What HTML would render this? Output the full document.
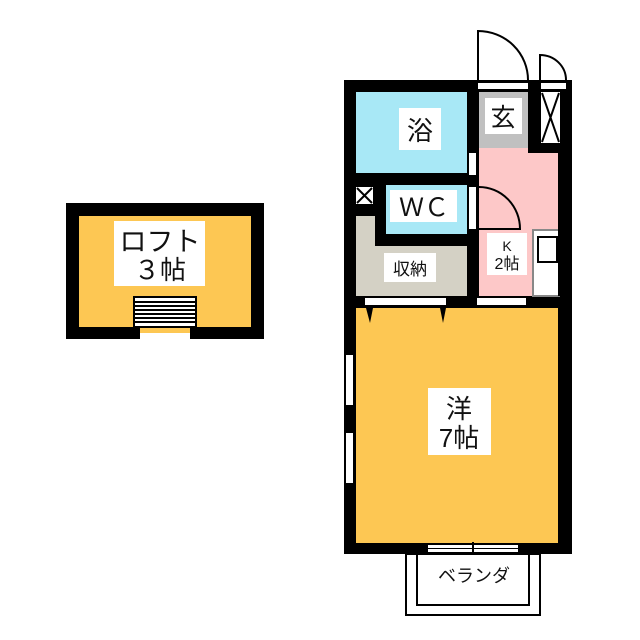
<!DOCTYPE html>
<html><head><meta charset="utf-8"><style>
html,body{margin:0;padding:0;background:#fff;}
svg{display:block;}
text{font-family:"Liberation Sans","Noto Sans CJK JP",sans-serif;fill:#111;}
</style></head><body>
<svg width="640" height="640" viewBox="0 0 640 640" xmlns="http://www.w3.org/2000/svg">
<!-- LOFT -->
<rect x="66" y="203" width="198" height="136" fill="#000"/>
<rect x="79" y="216" width="172" height="111" fill="#fdc753"/>
<rect x="140" y="327" width="50" height="6" fill="#fdc753"/>
<rect x="140" y="333" width="50" height="6" fill="#fff"/>
<rect x="114" y="221" width="91" height="65" fill="#fff"/>
<text x="160" y="251" font-size="27" text-anchor="middle">ロフト</text>
<text x="160" y="279" font-size="26" text-anchor="middle">３帖</text>
<rect x="134" y="297" width="62" height="30" fill="#fff" stroke="#000" stroke-width="2"/>
<g stroke="#000" stroke-width="2">
<line x1="135" y1="302" x2="195" y2="302"/><line x1="135" y1="306" x2="195" y2="306"/>
<line x1="135" y1="310" x2="195" y2="310"/><line x1="135" y1="314" x2="195" y2="314"/>
<line x1="135" y1="318" x2="195" y2="318"/><line x1="135" y1="322" x2="195" y2="322"/>
</g>

<!-- DOORS TOP -->
<path d="M478 80 L478 31 A50 49 0 0 1 528 80" fill="#fff" stroke="#000" stroke-width="2"/>
<path d="M540 80 L540 55 A26 25 0 0 1 566 80" fill="#fff" stroke="#000" stroke-width="2"/>

<!-- MAIN BLOCK -->
<rect x="344" y="80" width="228" height="474" fill="#000"/>
<rect x="478" y="83" width="50" height="6" fill="#fff"/>
<rect x="541" y="83" width="25" height="6" fill="#fff"/>
<!-- bath -->
<rect x="356" y="92" width="111" height="81" fill="#a8e8f6"/>
<rect x="399" y="108" width="42" height="42" fill="#fff"/>
<text x="420" y="140" font-size="26" text-anchor="middle">浴</text>
<!-- genkan -->
<rect x="479" y="92" width="49" height="56" fill="#c0c0c0"/>
<rect x="485" y="98" width="37" height="36" fill="#fff"/>
<text x="503" y="126" font-size="25" text-anchor="middle">玄</text>
<rect x="541" y="92" width="19" height="51" fill="#fff"/>
<path d="M542 93 L559 142 M559 93 L542 142" stroke="#000" stroke-width="2"/>
<!-- kitchen -->
<rect x="479" y="148" width="49" height="10" fill="#fdc8c8"/>
<rect x="479" y="153" width="81" height="143" fill="#fdc8c8"/>
<rect x="469" y="153" width="7" height="22" fill="#fff"/>
<rect x="469" y="187" width="7" height="42" fill="#fff"/>
<path d="M479 187 A41 42 0 0 1 520 229 L479 229" fill="none" stroke="#000" stroke-width="2"/>
<rect x="533" y="230" width="26" height="66" fill="#fff" stroke="#888" stroke-width="2"/>
<rect x="538" y="237" width="19" height="25" fill="#fff" stroke="#000" stroke-width="2"/>
<rect x="487" y="233" width="40" height="42" fill="#fff"/>
<text x="507" y="251" font-size="14" text-anchor="middle">K</text>
<text x="507" y="269" font-size="16" text-anchor="middle">2帖</text>
<!-- WC -->
<rect x="386" y="185" width="81" height="49" fill="#a8e8f6"/>
<rect x="390" y="190" width="67" height="32" fill="#fff"/>
<text x="424" y="216" font-size="25" text-anchor="middle">ＷＣ</text>
<rect x="356" y="187" width="17" height="17" fill="#fff"/>
<path d="M357 188 L372 203 M372 188 L357 203" stroke="#000" stroke-width="2"/>
<!-- storage -->
<rect x="356" y="216" width="19" height="80" fill="#d4d1c5"/>
<rect x="356" y="246" width="111" height="50" fill="#d4d1c5"/>
<rect x="384" y="253" width="52" height="29" fill="#fff"/>
<text x="410" y="275" font-size="17" text-anchor="middle">収納</text>
<rect x="365" y="298" width="81" height="7" fill="#fff"/>
<rect x="477" y="298" width="49" height="7" fill="#fff"/>
<!-- western room -->
<rect x="356" y="308" width="202" height="235" fill="#fdc753"/>
<rect x="558" y="153" width="2" height="143" fill="#000"/>
<path d="M366 308 L370 323 L373 308 Z M440 308 L443 323 L446 308 Z" fill="#000"/>
<rect x="346" y="355" width="7" height="50" fill="#fff"/>
<rect x="346" y="433" width="7" height="50" fill="#fff"/>
<rect x="428" y="388" width="63" height="67" fill="#fff"/>
<text x="459" y="418" font-size="26" text-anchor="middle">洋</text>
<text x="459" y="447" font-size="26" text-anchor="middle">7帖</text>
<rect x="428" y="545" width="90" height="7" fill="#fff"/>
<line x1="428" y1="548.5" x2="518" y2="548.5" stroke="#000" stroke-width="1"/>
<line x1="473" y1="542" x2="473" y2="555" stroke="#000" stroke-width="2"/>
<!-- balcony -->
<rect x="406" y="554" width="134" height="61" fill="none" stroke="#000" stroke-width="2"/>
<rect x="417" y="554" width="112" height="51" fill="none" stroke="#000" stroke-width="2"/>
<text x="474" y="582" font-size="18" text-anchor="middle">ベランダ</text>
</svg>
</body></html>
